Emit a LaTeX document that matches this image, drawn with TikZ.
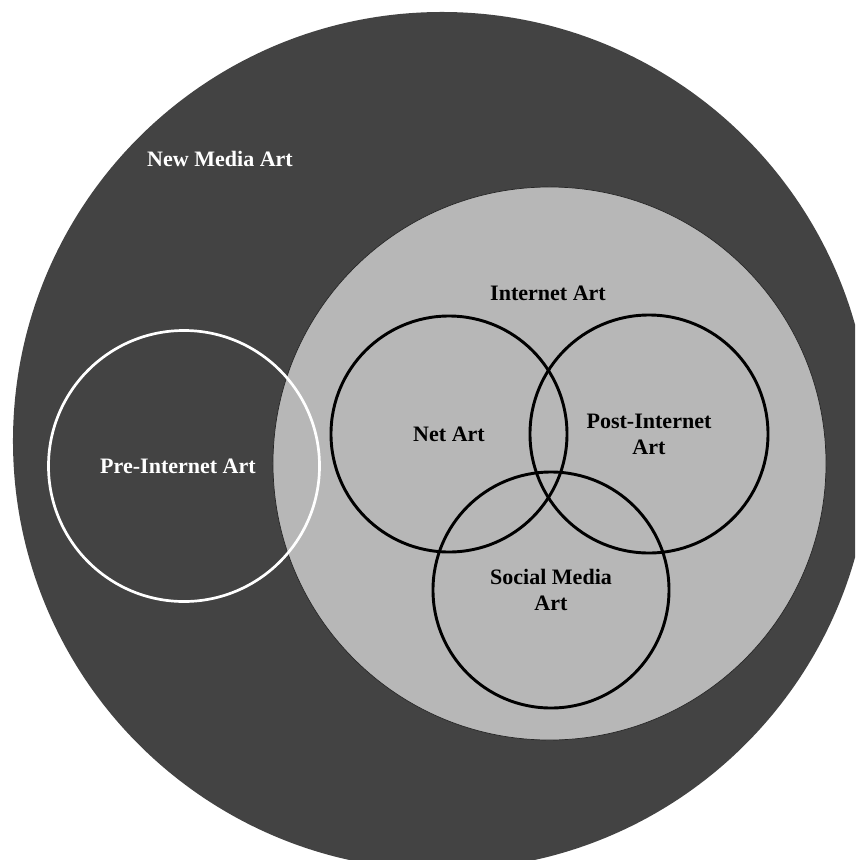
\documentclass[tikz,border=0pt]{standalone}
\usepackage{fontspec}
\setmainfont{Liberation Serif}
\usepackage{xcolor}
\usepackage{tikz}
\usetikzlibrary{positioning}
\definecolor{mediadark}{HTML}{434343}
\definecolor{netgray}{HTML}{B7B7B7}
\tikzset{
  setlabel/.style={align=center, font=\bfseries\fontsize{18.8}{22.2}\selectfont,
    inner sep=0pt},
  artcircle/.style={circle, draw=black, line width=2.5pt, inner sep=0pt},
  precircle/.style={circle, draw=white, line width=2.3pt, inner sep=0pt},
}
\begin{document}
\begin{tikzpicture}[x=0.03cm, y=-0.03cm]
  \clip (0,0) rectangle (855,860);

  % New Media Art (outer disc)
  \node[circle, fill=mediadark, inner sep=0pt, minimum size=25.74cm] (newmedia) at (442,441) {};
  \node[setlabel, text=white] (newmedialbl) at (220,159) {New Media Art};

  % Internet Art (inner disc)
  \node[circle, fill=netgray, draw=black!85, line width=0.6pt, inner sep=0pt,
        minimum size=16.59cm] (internet) at (549.5,463.5) {};
  \node[setlabel] (internetlbl) at (548,293) {Internet Art};

  % Pre-Internet Art
  \node[precircle, minimum size=8.13cm] (pre) at (184,466) {};
  \node[setlabel, text=white] (prelbl) at (178,466) {Pre-Internet Art};

  % Three sub-fields
  \node[artcircle, minimum size=7.08cm] (netart) at (449,434) {};
  \node[artcircle, minimum size=7.14cm] (postnet) at (649,434) {};
  \node[artcircle, minimum size=7.08cm] (social) at (551,590) {};
  \node[setlabel] (netlbl) at (netart) {Net Art};
  \node[setlabel] (postlbl) at (postnet) {Post-Internet\\Art};
  \node[setlabel] (sociallbl) at (social) {Social Media\\Art};
\end{tikzpicture}
\end{document}
